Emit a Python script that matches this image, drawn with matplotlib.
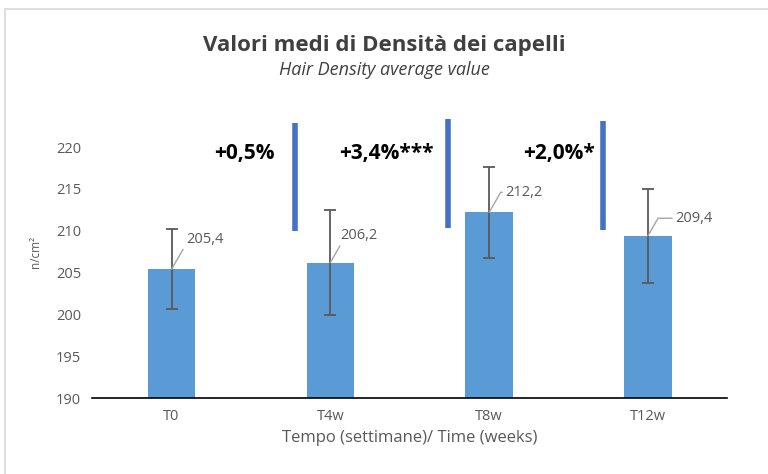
import matplotlib.pyplot as plt
from matplotlib.patches import Rectangle

categories = ['T0', 'T4w', 'T8w', 'T12w']
means = [205.4, 206.2, 212.2, 209.4]
errors = [4.8, 6.3, 5.4, 5.6]
value_labels = ['205,4', '206,2', '212,2', '209,4']

# percentage changes vs T0, and where the separator lines sit
changes = ['+0,5%', '+3,4%***', '+2,0%*']
change_x = [0.46, 1.35, 2.44]
sep_x = [0.78, 1.74, 2.72]
sep_low = [210.0, 210.3, 210.1]
sep_high = [222.9, 223.3, 223.1]

GRAY = '#595959'
BAR = '#5b9bd5'
SEP = '#4472c4'

plt.rcParams['font.family'] = ['Open Sans', 'DejaVu Sans']

fig = plt.figure(figsize=(7.68, 4.74), dpi=100)
fig.patches.append(Rectangle((0.007, -0.01), 1.0, 0.99, transform=fig.transFigure,
                             fill=False, edgecolor='#d9d9d9', linewidth=1.2))
ax = fig.add_axes([0.12, 0.16, 0.827, 0.618])

x = list(range(len(categories)))
ax.bar(x, means, width=0.3, color=BAR, zorder=2)
ax.errorbar(x, means, yerr=errors, fmt='none', ecolor=GRAY, elinewidth=1.3,
            capsize=4, capthick=1.3, zorder=3)

# value labels with leader lines
label_off = [(0.09, 3.5), (0.06, 3.2), (0.10, 2.4), (0.17, 2.1)]
for i, (m, lab) in enumerate(zip(means, value_labels)):
    dx, dy = label_off[i]
    ax.annotate(lab, xy=(i, m), xytext=(i + dx, m + dy), fontsize=10.5, color=GRAY,
                va='center', ha='left',
                arrowprops=dict(arrowstyle='-', color='#a6a6a6', lw=1,
                                connectionstyle='angle,angleA=0,angleB=60,rad=0',
                                shrinkA=0, shrinkB=0))

for xs, lo, hi in zip(sep_x, sep_low, sep_high):
    ax.plot([xs, xs], [lo, hi], color=SEP, linewidth=4, solid_capstyle='butt',
            clip_on=False, zorder=4)
for xs, t in zip(change_x, changes):
    ax.text(xs, 219.2, t, fontsize=15, fontweight='bold', color='black',
            ha='center', va='center')

ax.set_xlim(-0.5, len(categories) - 0.5)
ax.set_ylim(190, 225)
ax.set_yticks(range(190, 221, 5))
ax.set_xticks(x)
ax.set_xticklabels(categories)
ax.tick_params(axis='both', length=0, labelsize=10.5, colors=GRAY, pad=8)
for s in ['top', 'right', 'left']:
    ax.spines[s].set_visible(False)
ax.spines['bottom'].set_color('black')
ax.spines['bottom'].set_linewidth(1.2)

ax.set_xlabel('Tempo (settimane)/ Time (weeks)', fontsize=12, color=GRAY, labelpad=4)
ax.set_ylabel('n/cm²', fontsize=8.5, color=GRAY, labelpad=10)

fig.text(0.5, 0.905, 'Valori medi di Densità dei capelli', ha='center', va='center',
         fontsize=16, fontweight='bold', color='#404040')
fig.text(0.5, 0.852, 'Hair Density average value', ha='center', va='center',
         fontsize=13, style='italic', color='#404040')

fig.savefig('out.png', dpi=100)
